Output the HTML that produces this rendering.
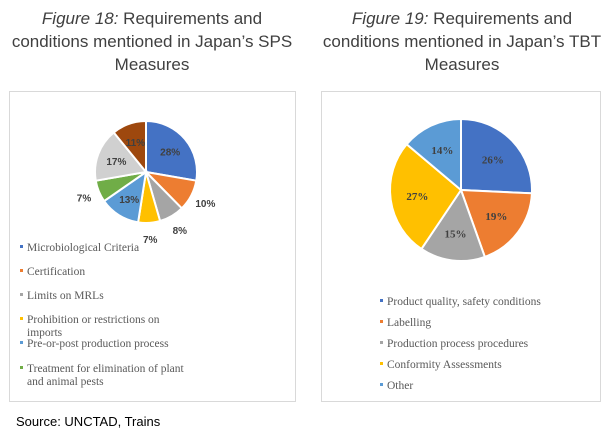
<!DOCTYPE html>
<html><head><meta charset="utf-8"><style>
body{margin:0;width:614px;height:445px;background:#fff;overflow:hidden}
svg{display:block}
.t{font-family:"Liberation Sans",sans-serif;font-size:17px;fill:#404040}
.lg{font-family:"Liberation Serif",serif;font-size:11.5px;fill:#595959}
.pl{font-family:"Liberation Sans",sans-serif;font-size:10px;font-weight:bold;fill:#404040}
.pr{font-family:"Liberation Serif",serif;font-size:11px;font-weight:bold;fill:#404040}
</style></head><body>
<svg id="s" width="614" height="445">
<text class="t" x="152" y="24" text-anchor="middle"><tspan font-style="italic">Figure 18:</tspan> Requirements and</text>
<text class="t" x="152" y="47" text-anchor="middle">conditions mentioned in Japan’s SPS</text>
<text class="t" x="152" y="70" text-anchor="middle">Measures</text>
<text class="t" x="462" y="24" text-anchor="middle"><tspan font-style="italic">Figure 19:</tspan> Requirements and</text>
<text class="t" x="462" y="47" text-anchor="middle">conditions mentioned in Japan’s TBT</text>
<text class="t" x="462" y="70" text-anchor="middle">Measures</text>
<rect x="9.5" y="91.5" width="286" height="310" fill="none" stroke="#d9d9d9"/>
<rect x="321.5" y="91.5" width="279" height="310" fill="none" stroke="#d9d9d9"/>
<g id="p1"></g><g id="p2"></g>
<text x="16" y="426" font-family="Liberation Sans,sans-serif" font-size="13" fill="#000">Source: UNCTAD, Trains</text>
</svg>
<script>
const sps_cats=["Microbiological Criteria","Certification","Limits on MRLs","Prohibition or restrictions on|imports","Pre-or-post production process","Treatment for elimination of plant|and animal pests","Other","Other2"];
const sps_vals=[28,10,8,7,13,7,17,11];
const sps_colors=["#4472c4","#ed7d31","#a5a5a5","#ffc000","#5b9bd5","#70ad47","#d0d0d0","#9e480e"];
const sps_outside=[0,1,1,1,0,1,0,0];
const tbt_cats=["Product quality, safety conditions","Labelling","Production process procedures"," Conformity Assessments","Other"];
const tbt_vals=[26,19,15,27,14];
const tbt_colors=["#4472c4","#ed7d31","#a5a5a5","#ffc000","#5b9bd5"];
const NS="http://www.w3.org/2000/svg";
function mk(t,a,p){const e=document.createElementNS(NS,t);for(const k in a)e.setAttribute(k,a[k]);p.appendChild(e);return e;}
function pie(g,vals,colors,cx,cy,r,outside,cls,prefix){
 const tot=vals.reduce((a,b)=>a+b,0);let a0=-Math.PI/2;
 vals.forEach((v,i)=>{
  const a1=a0+v/tot*2*Math.PI;
  const x0=cx+r*Math.cos(a0),y0=cy+r*Math.sin(a0),x1=cx+r*Math.cos(a1),y1=cy+r*Math.sin(a1);
  const p=mk('path',{d:`M${cx},${cy}L${x0},${y0}A${r},${r} 0 ${a1-a0>Math.PI?1:0} 1 ${x1},${y1}Z`,fill:colors[i],stroke:'#fff','stroke-width':2},g);
  
  
  const m=(a0+a1)/2,lr=outside&&outside[i]?r+16:r*0.62;
  const t=mk('text',{x:cx+lr*Math.cos(m),y:cy+lr*Math.sin(m)+4,'text-anchor':'middle',class:cls},g);
  t.textContent=v+'%';
  
  
  a0=a1;
 });
}
function legend(g,cats,colors,x,ys,prefix){
 cats.forEach((c,i)=>{
  if(ys[i]==null)return;
  const r=mk('rect',{x:x-7,y:ys[i]-6,width:3,height:3,fill:colors[i]},g);
  
  
  c.split('|').forEach((s,j)=>{
   const t=mk('text',{x:x,y:ys[i]+j*13,class:'lg','xml:space':'preserve'},g);
   t.textContent=s;
   
   
  });
 });
}
const g1=document.getElementById('p1'),g2=document.getElementById('p2');
pie(g1,sps_vals,sps_colors,146,172,51,sps_outside,'pl','sps');
pie(g2,tbt_vals,tbt_colors,461,190,71,null,'pr','tbt');
legend(g1,sps_cats,sps_colors,27,[251,275,299,323,347,372,null,null],'sps');
legend(g2,tbt_cats,tbt_colors,387,[305,326,347,368,389],'tbt');
</script>
</body></html>
